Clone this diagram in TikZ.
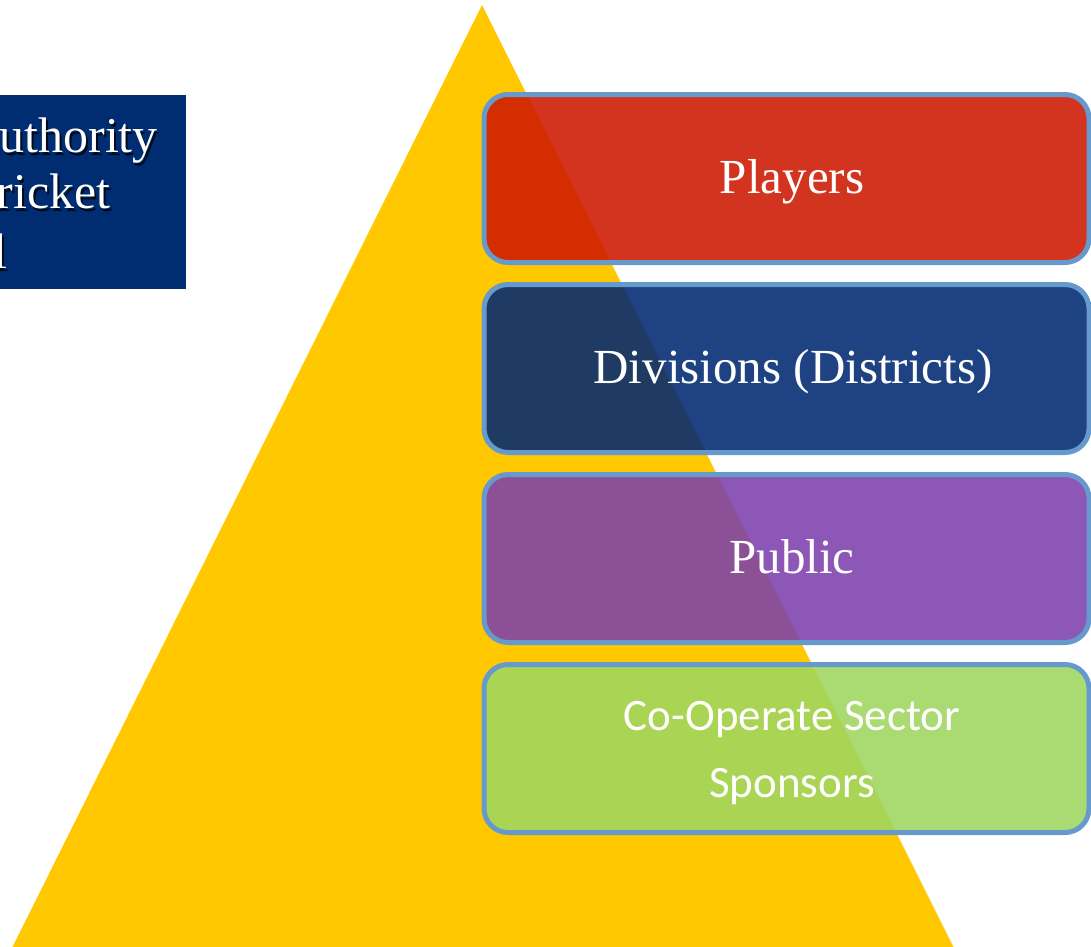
\documentclass[tikz,border=0pt]{standalone}
\usepackage{fontspec}
\setmainfont{Liberation Serif}
\newfontfamily\calib{Carlito}
\definecolor{pyellow}{RGB}{255,200,0}
\definecolor{pborder}{RGB}{102,153,204}
\definecolor{pred}{RGB}{205,24,0}
\definecolor{pblue}{RGB}{0,40,114}
\definecolor{ppurple}{RGB}{125,64,173}
\definecolor{pgreen}{RGB}{158,214,96}
\definecolor{navy}{RGB}{0,45,114}
\tikzset{
  tier/.style={draw=pborder, line width=5pt, rounded corners=24pt, fill opacity=0.88,
    minimum width=605pt, minimum height=168pt, inner sep=0pt},
  tierlabel/.style={text=white, anchor=base, font=\fontsize{49}{59}\selectfont, inner sep=0pt},
  greenlabel/.style={text=white, anchor=base, font=\calib\fontsize{45}{54}\selectfont, inner sep=0pt},
  titlelabel/.style={text=white, anchor=base east, font=\fontsize{50}{60}\selectfont, inner sep=0pt},
  titleshadow/.style={text=black, text opacity=0.75, anchor=base east, font=\fontsize{50}{60}\selectfont, inner sep=0pt},
}
\begin{document}
\begin{tikzpicture}[x=1pt,y=-1pt]
\useasboundingbox (0,0) rectangle (1091,946);
% pyramid
\begin{scope}
\clip (0,0) rectangle (1091,946);
\fill[pyellow] (482,5) -- (960,960) -- (6,960) -- cycle;
\end{scope}
% title box
\begin{scope}
\clip (0,95) rectangle (186,289);
\fill[navy] (0,95) rectangle (186,289);
\node[titleshadow] (t1s) at (160,155) {uthority};
\node[titleshadow] (t2s) at (113,211) {ricket};
\node[titleshadow] (t3s) at (10,271) {l};
\node[titlelabel] (t1) at (158,152) {uthority};
\node[titlelabel] (t2) at (111,208) {ricket};
\node[titlelabel] (t3) at (8,268) {l};
\end{scope}
% tiers
\node[tier, fill=pred] (players) at (786.5,178.5) {};
\node[tier, fill=pblue] (divisions) at (786.5,368.5) {};
\node[tier, fill=ppurple] (public) at (786.5,558.5) {};
\node[tier, fill=pgreen] (sponsors) at (786.5,748.5) {};
\node[tierlabel] (playersL) at (792,193) {Players};
\node[tierlabel] (divisionsL) at (793,383) {Divisions (Districts)};
\node[tierlabel] (publicL) at (792,573) {Public};
\node[greenlabel] (sponsorsL1) at (792,730) {Co-Operate Sector};
\node[greenlabel] (sponsorsL2) at (792,797) {Sponsors};
\end{tikzpicture}
\end{document}
